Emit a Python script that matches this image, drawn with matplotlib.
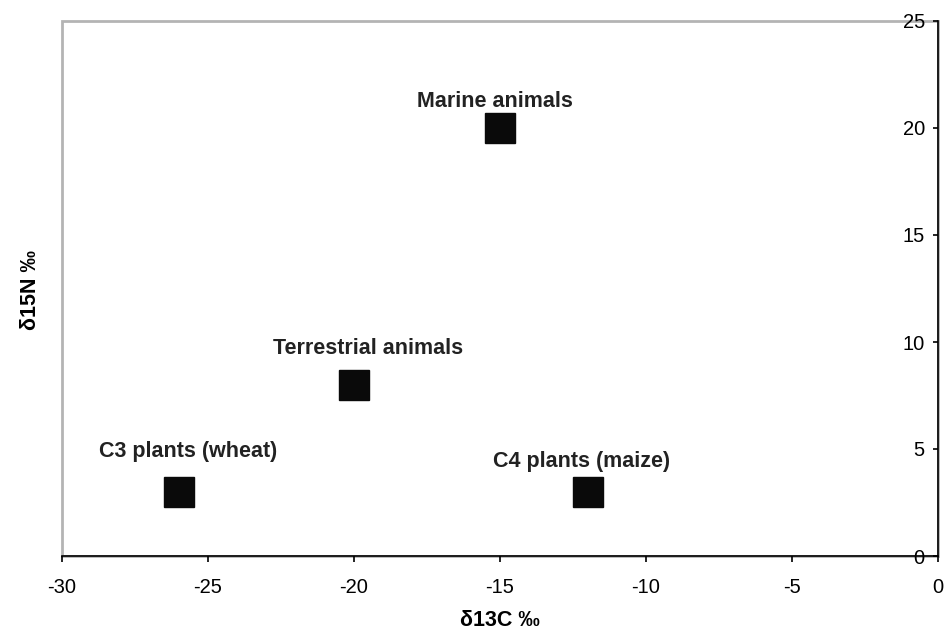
import matplotlib.pyplot as plt

# isotope values
names = ["C3 plants (wheat)", "Terrestrial animals", "Marine animals", "C4 plants (maize)"]
d13c = [-26, -20, -15, -12]
d15n = [3, 8, 20, 3]
# label offsets (points) from each marker
offsets = [(7, 29), (10, 26), (-4, 19), (-4, 22)]

plt.rcParams['font.family'] = ['Liberation Sans', 'DejaVu Sans']
plt.rcParams['axes.unicode_minus'] = False

fig = plt.figure(figsize=(9.44, 6.33), dpi=100)
ax = fig.add_axes([62 / 944, 1 - 556 / 633, 876 / 944, 535 / 633])

ax.plot(d13c, d15n, linestyle='none', marker='s', markersize=21,
        color='#0a0a0a', clip_on=False)

for name, x, y, off in zip(names, d13c, d15n, offsets):
    ax.annotate(name, (x, y), xytext=off, textcoords='offset points',
                ha='center', va='center', fontsize=15.5, fontweight='bold',
                color='#222222')

ax.set_xlim(-30, 0)
ax.set_ylim(0, 25)
ax.set_xticks([-30, -25, -20, -15, -10, -5, 0])
ax.set_yticks([0, 5, 10, 15, 20, 25])

# gray plot-area frame, black axes
ax.patch.set_edgecolor('#b4b4b4')
ax.patch.set_linewidth(2)
ax.spines['top'].set_visible(False)
ax.spines['right'].set_visible(False)
ax.spines['left'].set_position(('data', 0))
ax.spines['left'].set_color('black')
ax.spines['bottom'].set_color('black')
ax.spines['left'].set_linewidth(1.2)
ax.spines['bottom'].set_linewidth(1.2)

ax.tick_params(axis='x', direction='out', length=4, width=1.2, pad=12, labelsize=14.5)
ax.tick_params(axis='y', direction='out', length=3.5, width=1.2, pad=6, labelsize=14.5)

fig.text(500 / 944, 1 - 621 / 633, 'δ13C ‰', ha='center', va='center',
         fontsize=15.5, fontweight='bold')
fig.text(30 / 944, 1 - 290 / 633, 'δ15N ‰', ha='center', va='center',
         rotation=90, fontsize=15.5, fontweight='bold')

fig.savefig('out.png', dpi=100)
